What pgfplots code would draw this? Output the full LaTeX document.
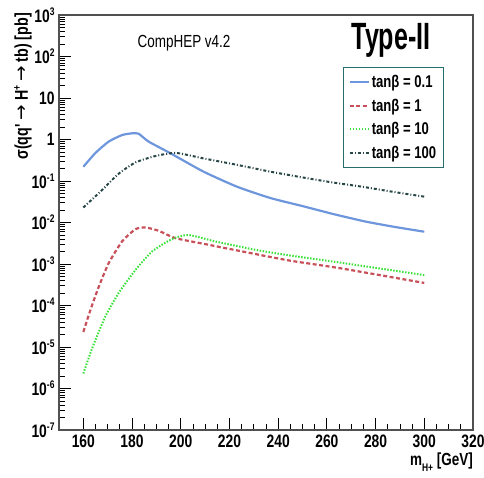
\documentclass[border=0pt]{standalone}
\usepackage{pgfplots}
\pgfplotsset{compat=1.18}
\usepackage{fontspec}
\setmainfont{Liberation Sans}
\newfontfamily\rootfont[FakeStretch=0.77]{Liberation Sans}
\newfontfamily\titlefont[FakeStretch=0.66]{Liberation Sans}
\newfontfamily\arrowfont{DejaVu Sans}
\definecolor{cblue}{RGB}{110,150,220}
\definecolor{cred}{RGB}{200,80,90}
\definecolor{cgreen}{RGB}{60,225,60}
\definecolor{cdark}{RGB}{40,70,70}
\definecolor{cframe}{RGB}{80,80,80}
\definecolor{cteal}{RGB}{40,110,110}
\newcommand{\sups}[1]{\raisebox{0.75ex}{\fontsize{11}{12}\selectfont #1}}
\newcommand{\arr}{{\arrowfont\mdseries →}}
\begin{document}
\begin{tikzpicture}
\useasboundingbox (-59pt,-47pt) rectangle (425pt,430pt);
\begin{axis}[
  at={(0,0)}, anchor=south west,
  scale only axis, width=414pt, height=415pt,
  ymode=log, clip=false,
  xmin=150, xmax=320, ymin=1e-7, ymax=1e3,
  xtick={160,180,...,320},
  minor x tick num=3,
  ytick={1e-7,1e-6,1e-5,1e-4,1e-3,1e-2,1e-1,1,10,100,1000},
  yticklabels={10\sups{-7},10\sups{-6},10\sups{-5},10\sups{-4},10\sups{-3},10\sups{-2},10\sups{-1},1,10,10\sups{2},10\sups{3}},
  xticklabels={160,180,200,220,240,260,280,300,320},
  /pgf/number format/assume math mode=true,
  tick label style={font=\rootfont\bfseries\fontsize{18}{20}\selectfont},
  tick align=inside,
  xtick pos=bottom, ytick pos=left,
  major tick length=12pt, minor tick length=6pt,
  tick style={black, line width=0.8pt},
  axis line style={cframe, line width=1.3pt},
  yticklabel style={xshift=-1pt},
  xticklabel style={yshift=-1pt},
  legend style={at={(rel axis cs:0.686,0.874)}, anchor=north west,
    draw=cteal, line width=1.2pt, fill=white,
    font=\rootfont\bfseries\fontsize{17}{20}\selectfont,
    row sep=6pt, inner xsep=5pt, inner ysep=5pt},
  legend cell align=left,
  legend image code/.code={\draw[#1] (0pt,0pt) -- (19pt,0pt);},
]
\addplot[cblue, line width=2.2pt, smooth, tension=0.35] coordinates {
(160,0.22) (164.9,0.47) (170.4,0.89) (175.9,1.28) (180,1.41) (182.7,1.38)
(186.8,0.89) (195.7,0.468) (209.4,0.1675) (223.1,0.0729) (236.8,0.0389) (250.4,0.0245)
(263,0.0158) (276,0.0105) (288,0.0078) (300,0.0060)};
\addlegendentry{tanβ = 0.1}
\addplot[cred, line width=2.2pt, dash pattern=on 4pt off 2.5pt, smooth, tension=0.35] coordinates {
(160,2.3e-5) (162.9,7.8e-5) (166.3,2.8e-4) (170.4,1.05e-3) (175.9,3.5e-3) (181.4,6.9e-3)
(185.5,7.6e-3) (191,6.3e-3) (197.8,4.2e-3) (211.5,2.9e-3) (230.6,1.74e-3)
(245,1.2e-3) (265.5,7.9e-4) (300,3.5e-4)};
\addlegendentry{tanβ = 1}
\addplot[cgreen, line width=2pt, dash pattern=on 1.5pt off 1.5pt, smooth, tension=0.35] coordinates {
(160,2.3e-6) (163.6,9.3e-6) (169,5.4e-5) (174.5,2e-4) (181.4,7.2e-4) (188.2,2e-3)
(196.4,4e-3) (203.2,5e-3) (214.2,3.5e-3) (230.6,2.2e-3) (245,1.6e-3) (265.5,1.08e-3) (300,5.4e-4)};
\addlegendentry{tanβ = 10}
\addplot[cdark, line width=2pt, dash pattern=on 3pt off 2pt on 1pt off 2pt, smooth, tension=0.35] coordinates {
(160,0.023) (167.6,0.06) (174.5,0.15) (181.4,0.28) (189.6,0.40) (198,0.475)
(209.4,0.35) (223.1,0.245) (236.8,0.168) (250,0.122) (262,0.093) (275,0.072) (287,0.055) (300,0.042)};
\addlegendentry{tanβ = 100}
\node[font=\rootfont\fontsize{17.5}{20}\selectfont, anchor=center] at (rel axis cs:0.302,0.933) {CompHEP v4.2};
\node[font=\titlefont\bfseries\fontsize{38}{40}\selectfont, anchor=center] at (rel axis cs:0.802,0.94) {Type-II};
\node[font=\rootfont\bfseries\fontsize{18.5}{20}\selectfont, anchor=east, rotate=90, inner sep=0pt] at ([xshift=-36pt,yshift=2pt]rel axis cs:0,1) {σ(qq' \arr{} H\sups{+} \arr{} tb) [pb]};
\node[font=\rootfont\bfseries\fontsize{17.5}{20}\selectfont, anchor=north east, inner sep=0pt] at ([yshift=-23pt]rel axis cs:1,0) {m\raisebox{-0.6ex}{\fontsize{11}{12}\selectfont H+} [GeV]};
\end{axis}
\end{tikzpicture}
\end{document}
